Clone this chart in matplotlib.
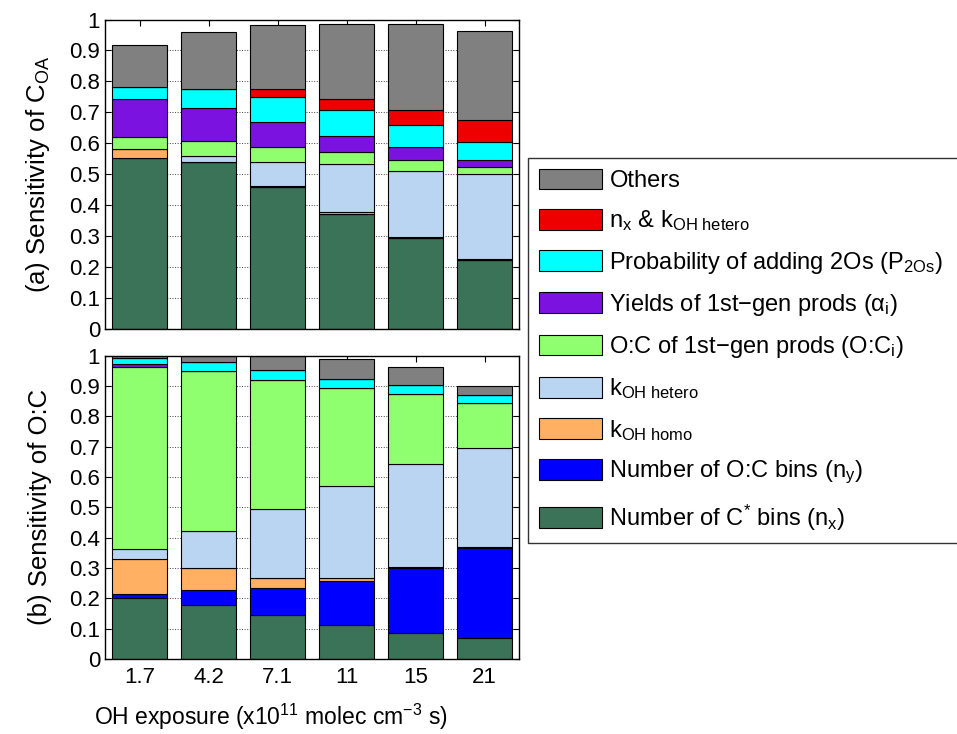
import numpy as np
import matplotlib
matplotlib.use("Agg")
import matplotlib.pyplot as plt

plt.rcParams['font.family'] = ['Liberation Sans', 'DejaVu Sans']
plt.rcParams['mathtext.fontset'] = 'custom'
plt.rcParams['mathtext.rm'] = 'Liberation Sans'
plt.rcParams['mathtext.it'] = 'Liberation Sans'
plt.rcParams['mathtext.default'] = 'rm'

# OH exposure categories
exposure = ['1.7', '4.2', '7.1', '11', '15', '21']

# factor names (bottom of stack first) and colours
factors = ['nx', 'ny', 'khomo', 'khet', 'oc', 'yields', 'p2os', 'nxk', 'others']
labels = {
    'nx': r'Number of C$^{*}$ bins (n$_{x}$)',
    'ny': r'Number of O:C bins (n$_{y}$)',
    'khomo': r'k$_{OH\ homo}$',
    'khet': r'k$_{OH\ hetero}$',
    'oc': r'O:C of 1st$-$gen prods (O:C$_{i}$)',
    'yields': r'Yields of 1st$-$gen prods (α$_{i}$)',
    'p2os': r'Probability of adding 2Os (P$_{2Os}$)',
    'nxk': r'n$_{x}$ & k$_{OH\ hetero}$',
    'others': 'Others',
}
colors = {
    'nx': '#3b7358', 'ny': '#0000ff', 'khomo': '#ffb062', 'khet': '#bad5f2',
    'oc': '#8fff6f', 'yields': '#7b12e0', 'p2os': '#00ffff', 'nxk': '#ee0000',
    'others': '#808080',
}

# (a) sensitivity of C_OA
coa_nx = [0.553, 0.538, 0.459, 0.370, 0.293, 0.223]
coa_ny = [0, 0, 0, 0, 0, 0]
coa_khomo = [0.029, 0.002, 0.003, 0.009, 0.003, 0.002]
coa_khet = [0, 0.019, 0.079, 0.155, 0.216, 0.276]
coa_oc = [0.039, 0.048, 0.046, 0.037, 0.034, 0.022]
coa_yields = [0.121, 0.106, 0.081, 0.054, 0.043, 0.023]
coa_p2os = [0.041, 0.063, 0.082, 0.083, 0.070, 0.059]
coa_nxk = [0, 0, 0.026, 0.034, 0.050, 0.071]
coa_others = [0.135, 0.184, 0.206, 0.243, 0.276, 0.287]

# (b) sensitivity of O:C
oc_nx = [0.201, 0.179, 0.145, 0.111, 0.085, 0.068]
oc_ny = [0.012, 0.047, 0.090, 0.145, 0.214, 0.299]
oc_khomo = [0.116, 0.073, 0.033, 0.012, 0.003, 0.002]
oc_khet = [0.033, 0.123, 0.225, 0.303, 0.341, 0.326]
oc_oc = [0.600, 0.527, 0.427, 0.322, 0.230, 0.149]
oc_yields = [0.009, 0.002, 0.001, 0.001, 0, 0]
oc_p2os = [0.022, 0.029, 0.033, 0.030, 0.030, 0.025]
oc_nxk = [0, 0, 0, 0, 0, 0]
oc_others = [0.007, 0.020, 0.046, 0.065, 0.060, 0.030]

coa = dict(nx=coa_nx, ny=coa_ny, khomo=coa_khomo, khet=coa_khet, oc=coa_oc,
           yields=coa_yields, p2os=coa_p2os, nxk=coa_nxk, others=coa_others)
ocr = dict(nx=oc_nx, ny=oc_ny, khomo=oc_khomo, khet=oc_khet, oc=oc_oc,
           yields=oc_yields, p2os=oc_p2os, nxk=oc_nxk, others=oc_others)

W, H = 957, 734
fig = plt.figure(figsize=(W / 100, H / 100), dpi=100)
ax_a = fig.add_axes([105 / W, 1 - 329 / H, 414 / W, 309.5 / H])
ax_b = fig.add_axes([105 / W, 1 - 659 / H, 414 / W, 303.3 / H])

x = np.arange(1, len(exposure) + 1)
handles = {}
for ax, data in [(ax_a, coa), (ax_b, ocr)]:
    bottom = np.zeros(len(x))
    for f in factors:
        vals = np.array(data[f])
        b = ax.bar(x, vals, 0.8, bottom=bottom, color=colors[f],
                   edgecolor='black', linewidth=0.8, zorder=2)
        handles[f] = b
        bottom += vals
    ax.set_xlim(0.5, 6.5)
    ax.set_ylim(0, 1)
    ax.set_yticks(np.arange(0, 1.01, 0.1))
    ax.set_yticklabels([f'{v:g}' for v in np.round(np.arange(0, 1.01, 0.1), 1)])
    ax.set_xticks(x)
    ax.yaxis.grid(True, linestyle=':', color='#404040', linewidth=0.7, zorder=0)
    ax.set_axisbelow(True)
    ax.tick_params(direction='in', top=True, right=True, length=4,
                   labelsize=16, width=0.8)
    ax.tick_params(axis='x', pad=6)
    for s in ax.spines.values():
        s.set_linewidth(1.0)

ax_a.set_xticklabels([])
ax_b.set_xticklabels(exposure)
ax_a.set_ylabel(r'(a) Sensitivity of C$_{OA}$', fontsize=18.5, labelpad=12)
ax_b.set_ylabel('(b) Sensitivity of O:C', fontsize=18.5, labelpad=12)
ax_b.set_xlabel(r'OH exposure (x10$^{11}$ molec cm$^{-3}$ s)', fontsize=16.5, labelpad=10)
ax_b.xaxis.label.set_x(0.40)

order = factors[::-1]
leg = fig.legend([handles[f] for f in order], [labels[f] for f in order],
                 loc='upper left', mode='expand',
                 bbox_to_anchor=(528 / W, 1 - 158 / H, 480 / W, 0),
                 fontsize=17, frameon=True, fancybox=False, edgecolor='black',
                 handlelength=2.7, handleheight=0.97, handletextpad=0.3,
                 labelspacing=0.69, borderpad=0.45, borderaxespad=0)
leg.get_frame().set_linewidth(1.0)

fig.savefig('out.png', dpi=100)
